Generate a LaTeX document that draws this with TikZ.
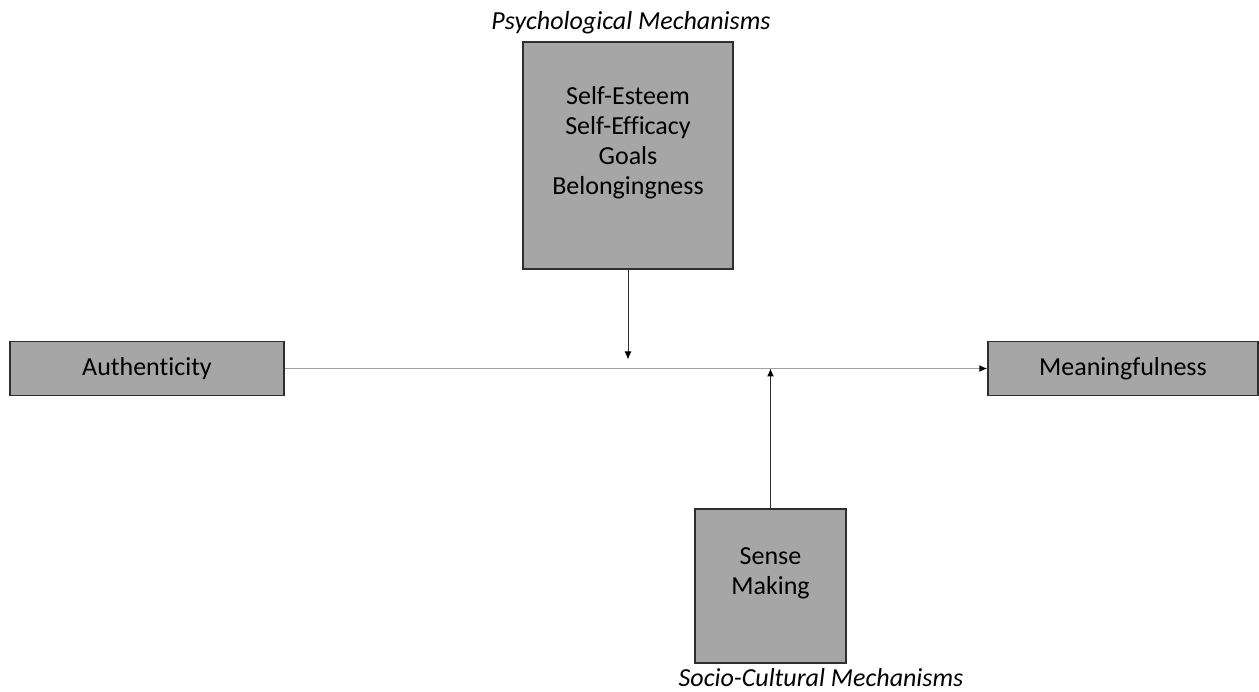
\documentclass[tikz,border=0pt]{standalone}
\usepackage{fontspec}
\setmainfont{Carlito}[Ligatures=NoCommon]
\usetikzlibrary{arrows.meta}
\definecolor{boxgray}{HTML}{A6A6A6}
\definecolor{edgegray}{HTML}{2E2E2E}
\definecolor{linegray}{HTML}{A0A0A0}
\begin{document}
\begin{tikzpicture}[x=1pt,y=-1pt,line join=miter,
  box/.style={draw=edgegray,line width=1.4pt,fill=boxgray,inner sep=0pt,
    align=center,font=\fontsize{26}{30}\selectfont},
  mech/.style={inner sep=0pt,font=\fontsize{26}{30}\selectfont\itshape},
  tip/.style={-{Latex[length=8pt,width=7pt,color=black]}}]
  \useasboundingbox (0,0) rectangle (1259,692);
  \node[box,minimum width=274,minimum height=54] (auth) at (147,368.5) {Authenticity};
  \node[box,minimum width=270,minimum height=54] (mean) at (1123,368.5) {Meaningfulness};
  \node[box,minimum width=210,minimum height=227] (psych) at (628,155.5)
    {Self-Esteem\\Self-Efficacy\\Goals\\Belongingness\\\mbox{}};
  \node[box,minimum width=151,minimum height=154] (sense) at (770.5,586) {Sense\\Making\\\mbox{}};
  \node[mech] (psychlabel) at (631,23) {Psychological Mechanisms};
  \node[mech] (socilabel) at (821,678) {Socio-Cultural Mechanisms};
  \draw[tip,draw=linegray,line width=1.4pt] (auth) -- (mean);
  \draw[tip,draw=edgegray,line width=1pt,shorten >=9pt] (psych.south) -- (psych.south |- auth.east);
  \draw[tip,draw=edgegray,line width=1pt] (sense.north) -- (sense.north |- auth.east);
\end{tikzpicture}
\end{document}
